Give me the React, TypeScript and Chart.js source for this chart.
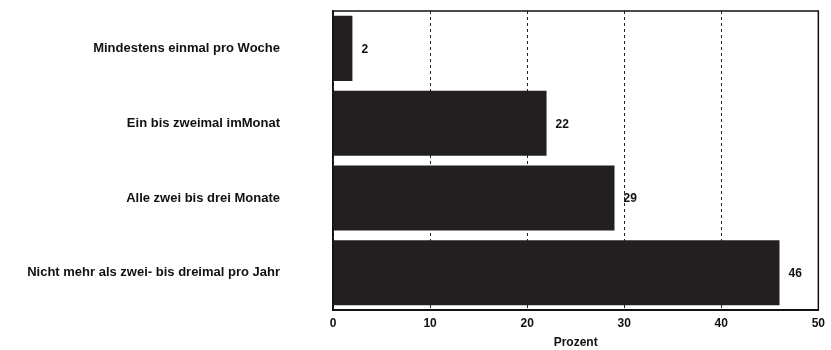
import React, { useEffect, useRef } from "react";
import { Chart, registerables } from "chart.js";

Chart.register(...registerables);

const categories = [
  "Mindestens einmal pro Woche",
  "Ein bis zweimal imMonat",
  "Alle zwei bis drei Monate",
  "Nicht mehr als zwei- bis dreimal pro Jahr",
];
const values = [2, 22, 29, 46];
const xTicks = [0, 10, 20, 30, 40, 50];
const xTitle = "Prozent";

const FONT = "'Liberation Sans', Arial, Helvetica, sans-serif";

const framePlugin = {
  id: "frame",
  afterDraw(chart: any) {
    const { ctx, chartArea } = chart;
    ctx.save();
    ctx.strokeStyle = "#111";
    ctx.lineWidth = 1.5;
    ctx.strokeRect(chartArea.left, chartArea.top, chartArea.right - chartArea.left, chartArea.bottom - chartArea.top);
    ctx.restore();
  },
};

const valueLabelPlugin = {
  id: "valueLabels",
  afterDatasetsDraw(chart: any) {
    const { ctx } = chart;
    const meta = chart.getDatasetMeta(0);
    ctx.save();
    ctx.fillStyle = "#111";
    ctx.font = `bold 12px ${FONT}`;
    ctx.textAlign = "left";
    ctx.textBaseline = "middle";
    meta.data.forEach((bar: any, i: number) => {
      ctx.fillText(String(values[i]), bar.x + 9, bar.y + 1);
    });
    ctx.restore();
  },
};

export default function App() {
  const ref = useRef<HTMLCanvasElement | null>(null);
  useEffect(() => {
    if (!ref.current) return;
    const chart = new Chart(ref.current, {
      type: "bar",
      data: {
        labels: categories,
        datasets: [
          {
            data: values,
            backgroundColor: "#231f20",
            borderWidth: 0,
            barPercentage: 0.87,
            categoryPercentage: 1,
          },
        ],
      },
      options: {
        indexAxis: "y",
        animation: false,
        responsive: false,
        maintainAspectRatio: false,
        devicePixelRatio: 1,
        layout: { padding: { top: 11, right: 10, bottom: 0, left: 0 } },
        plugins: { legend: { display: false }, tooltip: { enabled: false }, title: { display: false } },
        scales: {
          x: {
            min: 0,
            max: 50,
            afterBuildTicks: (scale: any) => {
              scale.ticks = xTicks.map((v) => ({ value: v }));
            },
            ticks: {
              color: "#111",
              font: { family: FONT, size: 12, weight: "bold" },
              padding: 6,
            },
            grid: {
              color: "#222",
              lineWidth: 1,
              drawTicks: false,
            },
            border: { display: true, color: "#111", width: 1.5, dash: [3, 3] },
            title: {
              display: true,
              text: xTitle,
              color: "#111",
              font: { family: FONT, size: 12, weight: "bold" },
              padding: { top: -1, bottom: 0 },
            },
          },
          y: {
            afterFit: (scale: any) => {
              scale.width = 333;
            },
            ticks: {
              color: "#111",
              font: { family: FONT, size: 13, weight: "bold" },
              padding: 0,
            },
            grid: {
              display: true,
              drawOnChartArea: false,
              drawTicks: true,
              tickLength: 53,
              color: "rgba(0,0,0,0)",
              tickColor: "rgba(0,0,0,0)",
            },
            border: { display: true, color: "#111", width: 1.5 },
          },
        },
      },
      plugins: [framePlugin, valueLabelPlugin],
    });
    return () => chart.destroy();
  }, []);
  return (
    <div style={{ position: "fixed", left: 0, top: 0, width: 831, height: 350, background: "#fff" }}>
      <canvas ref={ref} width={831} height={350} style={{ display: "block", width: 831, height: 350 }} />
    </div>
  );
}
